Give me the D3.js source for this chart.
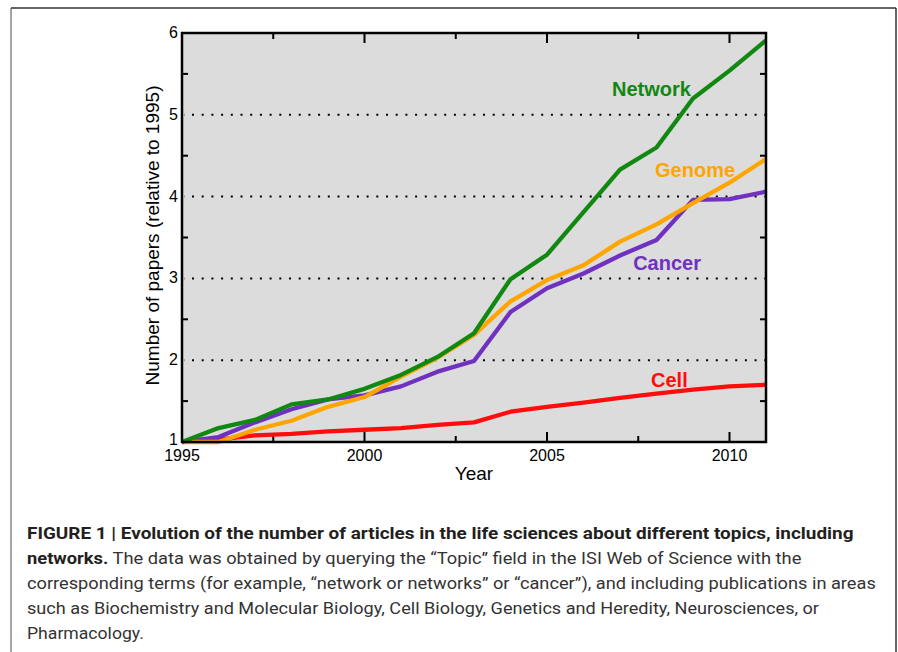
<!DOCTYPE html>
<html>
<head>
<meta charset="utf-8">
<script src="https://cdn.jsdelivr.net/npm/d3@7"></script>
<style>
    body { margin: 0; background: #fff; }
    svg { display: block; }
</style>
</head>
<body>
<div id="chart"></div>
<script>
// years on the x axis
const years = d3.range(1995, 2012);

// number of papers relative to 1995
const networkValues = [1.00, 1.17, 1.27, 1.46, 1.52, 1.65, 1.82, 2.04, 2.33, 2.99, 3.29, 3.81, 4.33, 4.60, 5.20, 5.54, 5.91];
const genomeValues  = [1.00, 1.00, 1.15, 1.26, 1.43, 1.55, 1.80, 2.03, 2.31, 2.72, 2.98, 3.16, 3.45, 3.66, 3.92, 4.17, 4.46];
const cancerValues  = [1.00, 1.06, 1.24, 1.40, 1.52, 1.57, 1.68, 1.86, 1.99, 2.59, 2.88, 3.06, 3.28, 3.47, 3.96, 3.97, 4.06];
const cellValues    = [1.00, 1.03, 1.08, 1.10, 1.13, 1.15, 1.17, 1.21, 1.24, 1.37, 1.43, 1.48, 1.54, 1.59, 1.64, 1.68, 1.70];

const seriesNames = ["Cell", "Cancer", "Genome", "Network"];
const seriesColors = ["#ff0d0d", "#7030c0", "#ffa500", "#118811"];

// tick labels
const xTickLabels = [1995, 2000, 2005, 2010];
const yTickLabels = [1, 2, 3, 4, 5, 6];

const captionLines = [
    [{t: "FIGURE 1 | Evolution of the number of articles in the life sciences about different topics, including", b: true}],
    [{t: "networks.", b: true}, {t: " The data was obtained by querying the \u201cTopic\u201d field in the ISI Web of Science with the", b: false}],
    [{t: "corresponding terms (for example, \u201cnetwork or networks\u201d or \u201ccancer\u201d), and including publications in areas", b: false}],
    [{t: "such as Biochemistry and Molecular Biology, Cell Biology, Genetics and Heredity, Neurosciences, or", b: false}],
    [{t: "Pharmacology.", b: false}]
];

const seriesValues = {Cell: cellValues, Cancer: cancerValues, Genome: genomeValues, Network: networkValues};

// where the series names sit (year, value of baseline start)
const labelSpots = {
    Network: [2006.78, 5.23],
    Genome: [2007.96, 4.24],
    Cancer: [2007.36, 3.10],
    Cell: [2007.85, 1.67]
};

const W = 898, H = 652;
const plot = {left: 182, right: 766, top: 33, bottom: 442};

const svg = d3.select("#chart").append("svg")
    .attr("width", W)
    .attr("height", H)
    .style("font-family", "'Liberation Sans', Arial, Helvetica, sans-serif");

// outer figure frame
svg.append("line").attr("x1", 11).attr("x2", 11).attr("y1", 8).attr("y2", H + 5)
    .attr("stroke", "#888").attr("stroke-width", 1.5);
svg.append("line").attr("x1", 11).attr("x2", 896).attr("y1", 8).attr("y2", 8)
    .attr("stroke", "#333").attr("stroke-width", 1.5);
svg.append("line").attr("x1", 896).attr("x2", 896).attr("y1", 8).attr("y2", H + 5)
    .attr("stroke", "#333").attr("stroke-width", 1.5);

const x = d3.scaleLinear().domain([1995, 2011]).range([plot.left, plot.right]);
const y = d3.scaleLinear().domain([1, 6]).range([plot.bottom, plot.top]);

// plot background
svg.append("rect")
    .attr("x", plot.left).attr("y", plot.top)
    .attr("width", plot.right - plot.left)
    .attr("height", plot.bottom - plot.top)
    .attr("fill", "#dcdcdc");

// dotted grid lines
svg.append("g").selectAll("line")
    .data(yTickLabels.filter(d => d > 1 && d < 6))
    .enter().append("line")
    .attr("x1", plot.left + 2).attr("x2", plot.right)
    .attr("y1", d => y(d)).attr("y2", d => y(d))
    .attr("stroke", "#000")
    .attr("stroke-width", 2)
    .attr("stroke-dasharray", "2,7.7")
    .attr("stroke-dashoffset", -8);

// ticks (inward, every 2.5 years and every 0.5)
const xTicks = d3.range(1995, 2011.01, 2.5);
const yTicks = d3.range(1.5, 6, 1);
const tickGroup = svg.append("g").attr("stroke", "#000").attr("stroke-width", 2);
xTicks.forEach(t => {
    const len = xTickLabels.includes(t) ? 10 : 6;
    tickGroup.append("line").attr("x1", x(t)).attr("x2", x(t))
        .attr("y1", plot.bottom).attr("y2", plot.bottom - len);
    tickGroup.append("line").attr("x1", x(t)).attr("x2", x(t))
        .attr("y1", plot.top).attr("y2", plot.top + len);
});
yTicks.forEach(t => {
    tickGroup.append("line").attr("x1", plot.left).attr("x2", plot.left + 6)
        .attr("y1", y(t)).attr("y2", y(t));
    tickGroup.append("line").attr("x1", plot.right).attr("x2", plot.right - 6)
        .attr("y1", y(t)).attr("y2", y(t));
});

// series lines
const line = d3.line()
    .x((d, i) => x(years[i]))
    .y(d => y(d));

seriesNames.forEach((name, i) => {
    svg.append("path")
        .datum(seriesValues[name])
        .attr("d", line)
        .attr("fill", "none")
        .attr("stroke", seriesColors[i])
        .attr("stroke-width", 4.3)
        .attr("stroke-linejoin", "round");
});

// series labels
seriesNames.forEach((name, i) => {
    svg.append("text")
        .attr("x", x(labelSpots[name][0]))
        .attr("y", y(labelSpots[name][1]))
        .attr("fill", seriesColors[i])
        .attr("font-size", 20)
        .attr("font-weight", "bold")
        .text(name);
});

// plot frame on top
svg.append("rect")
    .attr("x", plot.left).attr("y", plot.top)
    .attr("width", plot.right - plot.left)
    .attr("height", plot.bottom - plot.top)
    .attr("fill", "none")
    .attr("stroke", "#000")
    .attr("stroke-width", 2.5);

// tick labels
svg.append("g").selectAll("text")
    .data(xTickLabels)
    .enter().append("text")
    .attr("x", d => x(d))
    .attr("y", plot.bottom + 19)
    .attr("text-anchor", "middle")
    .attr("font-size", 16)
    .text(d => d);

svg.append("g").selectAll("text")
    .data(yTickLabels)
    .enter().append("text")
    .attr("x", plot.left - 4)
    .attr("y", d => y(d) + (d === 1 ? 3 : 5))
    .attr("text-anchor", "end")
    .attr("font-size", 16)
    .text(d => d);

// axis titles
svg.append("text")
    .attr("x", (plot.left + plot.right) / 2)
    .attr("y", 480)
    .attr("text-anchor", "middle")
    .attr("font-size", 19)
    .text("Year");

svg.append("text")
    .attr("transform", `translate(159, ${(plot.top + plot.bottom) / 2 - 2}) rotate(-90)`)
    .attr("text-anchor", "middle")
    .attr("font-size", 19)
    .text("Number of papers (relative to 1995)");

// caption, squeezed to the widths of the original lines
const captionEnds = [854, 802, 876, 820, 144];
const captionLeft = 27;
captionLines.forEach((parts, i) => {
    const txt = svg.append("text")
        .attr("x", 0)
        .attr("y", 0)
        .attr("font-size", 17)
        .style("font-family", "'Liberation Sans Narrow', 'Roboto', 'Liberation Sans', sans-serif");
    parts.forEach(p => {
        txt.append("tspan")
            .attr("font-weight", p.b ? "bold" : "normal")
            .attr("fill", p.b ? "#231f20" : "#333")
            .text(p.t);
    });
    const w = txt.node().getComputedTextLength();
    const sx = (captionEnds[i] - captionLeft) / w;
    txt.attr("transform", `translate(${captionLeft}, ${539 + i * 24.9}) scale(${sx}, 1)`);
});
</script>
</body>
</html>
